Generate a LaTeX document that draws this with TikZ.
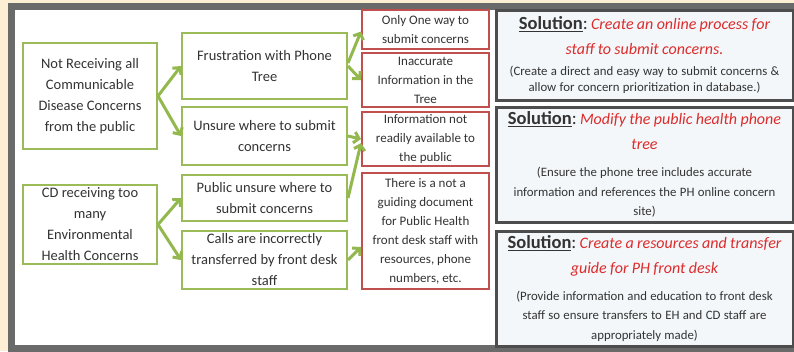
\documentclass[tikz,border=0pt]{standalone}
\usepackage{fontspec}
\setmainfont{Carlito}
\usetikzlibrary{arrows.meta}
\definecolor{cream}{HTML}{FDEFD3}
\definecolor{framegray}{HTML}{6A6A6A}
\definecolor{leafgreen}{HTML}{9BBB59}
\definecolor{arrowgreen}{HTML}{92B84E}
\definecolor{brickred}{HTML}{C0504D}
\definecolor{slate}{HTML}{4D4D4D}
\definecolor{paleblue}{HTML}{F3F7FA}
\definecolor{solred}{HTML}{DD2C2C}
\definecolor{inktext}{HTML}{333333}
\tikzset{
  causebox/.style={draw=leafgreen, line width=2, fill=white, align=center, inner sep=0pt,
    text=inktext, font=\fontsize{14.5}{21}\selectfont},
  issuebox/.style={draw=brickred, line width=2, fill=white, align=center, inner sep=0pt,
    minimum width=127, text=inktext, font=\fontsize{13}{19}\selectfont},
  solbox/.style={draw=slate, line width=3, fill=paleblue, align=center, inner sep=0pt,
    text width=292, minimum width=297, text=inktext},
  flow/.style={draw=arrowgreen, line width=3, -{Straight Barb[length=5,width=11]}}
}
\newcommand{\solhead}[1]{{\fontsize{16}{25}\selectfont{\fontsize{18.5}{25}\selectfont\underline{\textbf{Solution}}:}~{\color{solred}\itshape #1}\par}}
\newcommand{\solnote}[2][19.5]{{\fontsize{12.8}{#1}\selectfont #2\par}}
\begin{document}
\begin{tikzpicture}[x=1pt,y=-1pt]
  \useasboundingbox (0,0) rectangle (794,351);
  \fill[cream] (0,0) rectangle (794,351);
  \draw[framegray, line width=7, fill=white] (11.5,6.5) rectangle (805,348.5);

  % root causes
  \node[causebox, minimum width=134, minimum height=106] (notrecv) at (90,96)
    {Not Receiving all\\Communicable\\Disease Concerns\\from the public};
  \node[causebox, minimum width=134, minimum height=79] (toomany) at (90,224.5)
    {CD receiving too\\many\\Environmental\\Health Concerns};

  % second level
  \node[causebox, minimum width=165, minimum height=66] (phonetree) at (264.5,66)
    {Frustration with Phone\\Tree};
  \node[causebox, minimum width=165, minimum height=58] (unsure) at (264.5,136)
    {Unsure where to submit\\concerns};
  \node[causebox, minimum width=165, minimum height=46] (pubunsure) at (264.5,198)
    {Public unsure where to\\submit concerns};
  \node[causebox, minimum width=165, minimum height=58] (calls) at (264.5,260)
    {Calls are incorrectly\\transferred by front desk\\staff};

  % problems
  \node[issuebox, minimum height=39] (oneway) at (425.5,29.5)
    {Only One way to\\submit concerns};
  \node[issuebox, minimum height=54] (inacc) at (425.5,80)
    {Inaccurate\\Information in the\\Tree};
  \node[issuebox, minimum height=54] (notavail) at (425.5,139)
    {Information not\\readily available to\\the public};
  \node[issuebox, minimum height=116] (noguide) at (425.5,231)
    {There is a not a\\guiding document\\for Public Health\\front desk staff with\\resources, phone\\numbers, etc.};

  % solutions
  \node[solbox, minimum height=90] (online) at (644.5,55)
    {\solhead{Create an online process for\\staff to submit concerns.}\vspace{5pt}
     \solnote[16]{(Create a direct and easy way to submit concerns \&\\allow for concern prioritization in database.)}};
  \node[solbox, minimum height=115] (modify) at (644.5,164.5)
    {\solhead{Modify the public health phone\\tree}\vspace{8pt}
     \solnote{(Ensure the phone tree includes accurate\\information and references the PH online concern\\site)}};
  \node[solbox, minimum height=115] (guide) at (644.5,288.5)
    {\solhead{Create a resources and transfer\\guide for PH front desk}\vspace{7pt}
     \solnote{(Provide information and education to front desk\\staff so ensure transfers to EH and CD staff are\\appropriately made)}};

  % connectors
  \draw[flow] (notrecv.east) -- (phonetree.west);
  \draw[flow] (notrecv.east) -- (unsure.west);
  \draw[flow] (toomany.east) -- (pubunsure.west);
  \draw[flow] (toomany.east) -- (calls.west);
  \draw[flow] ([yshift=3]phonetree.east) -- ([yshift=-2]oneway.west);
  \draw[flow] (phonetree.east) -- (inacc.west);
  \draw[flow] (unsure.east) -- (notavail.west);
  \draw[flow] (pubunsure.east) -- ([yshift=-4]notavail.west);
  \draw[flow] (calls.east) -- ([yshift=-16]noguide.west);
\end{tikzpicture}
\end{document}
